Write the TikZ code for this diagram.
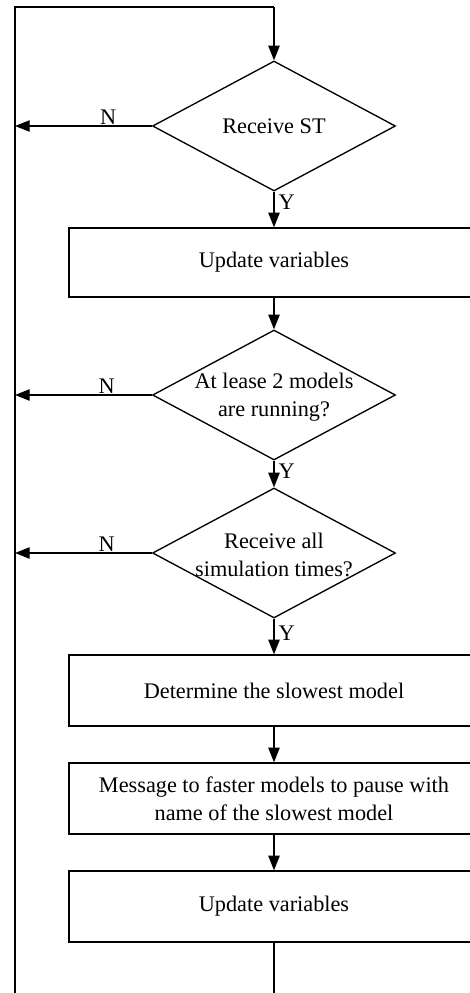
\documentclass[tikz,border=0pt]{standalone}
\usepackage{fontspec}
\setmainfont{Liberation Serif}
\usetikzlibrary{shapes.geometric,arrows.meta,positioning}
\begin{document}
\begin{tikzpicture}[x=0.75pt,y=-0.75pt,
  line width=1pt,
  font=\fontsize{16.7}{21}\selectfont,
  procbox/.style={draw,rectangle,minimum width=410*0.75pt,inner sep=0pt},
  decision/.style={draw,diamond,inner sep=0pt,minimum width=243*0.75pt,minimum height=130*0.75pt},
  flow/.style={-{Triangle[length=11pt,width=8.5pt]}},
  lbl/.style={inner sep=1pt},
  ylbl/.style={inner sep=1pt,right,xshift=2pt}]
\clip (0,0) rectangle (470,993);
\fill[white] (0,0) rectangle (470,993);

% loop-back rail on the left and the entry point at the top
\coordinate (L) at (15,0);
\coordinate (topL) at (15,7);
\coordinate (topC) at (274,7);
\coordinate (botL) at (15,1000);
\coordinate (botC) at (274,1000);

% decisions
\node[decision] (d1) at (274,126) {};
\node (d1t) at (d1) {Receive ST};
\node[decision] (d2) at (274,395) {};
\node[align=center] (d2t) at (274,397) {At lease 2 models\\are running?};
\node[decision] (d3) at (274,553) {};
\node[align=center] (d3t) at (274,555) {Receive all\\simulation times?};

% process boxes
\node[procbox,minimum height=69*0.75pt] (b1) at (274,262.5) {Update variables};
\node[procbox,minimum height=71*0.75pt] (b2) at (274,690.5) {Determine the slowest model};
\node[procbox,minimum height=71*0.75pt,align=center] (b3) at (274,798.5) {Message to faster models to pause with\\name of the slowest model};
\node[procbox,minimum height=71*0.75pt] (b4) at (274,906.5) {Update variables};

% main flow
\draw (botL) -- (topL) -- (topC);
\draw[flow] (topC) -- (d1.north);
\draw[flow] (d1.south) -- node[ylbl,pos=0.3] (y1) {Y} (b1.north);
\draw[flow] (b1.south) -- (d2.north);
\draw[flow] (d2.south) -- node[ylbl,pos=0.4] (y2) {Y} (d3.north);
\draw[flow] (d3.south) -- node[ylbl,pos=0.4] (y3) {Y} (b2.north);
\draw[flow] (b2.south) -- (b3.north);
\draw[flow] (b3.south) -- (b4.north);
\draw (b4.south) -- (botC);

% "no" branches back to the rail
\draw[flow] (d1.west) -- node[lbl,pos=0.32,above] (n1) {N} (d1.west -| L);
\draw[flow] (d2.west) -- node[lbl,pos=0.33,above] (n2) {N} (d2.west -| L);
\draw[flow] (d3.west) -- node[lbl,pos=0.33,above] (n3) {N} (d3.west -| L);
\end{tikzpicture}
\end{document}
